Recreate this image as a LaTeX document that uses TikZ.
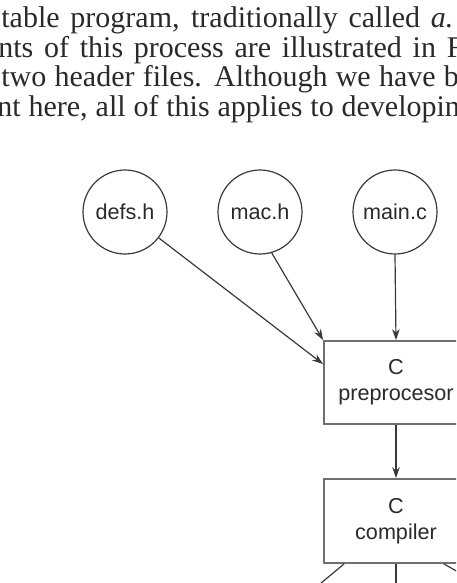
\documentclass[tikz,border=0pt]{standalone}
\usepackage{fontspec}
\setmainfont{Liberation Serif}
\setsansfont{Liberation Sans}
\usetikzlibrary{arrows.meta}
\definecolor{ink}{HTML}{2A2A2A}
\definecolor{lineink}{HTML}{3A3A3A}
\definecolor{boxink}{HTML}{707070}
\tikzset{
  bodytext/.style={anchor=base west, inner sep=0pt, text=ink, font=\fontsize{15pt}{15pt}\selectfont},
  filenode/.style={circle, draw=lineink, line width=0.6pt, minimum size=42pt, inner sep=0pt,
    text=ink, font=\sffamily\fontsize{10.8pt}{13pt}\selectfont},
  procbox/.style={rectangle, draw=boxink, line width=0.9pt, minimum width=72pt, inner sep=0pt,
    align=center, text=ink, font=\sffamily\fontsize{10.8pt}{13pt}\selectfont},
  conn/.style={draw=lineink, line width=0.6pt, -{Stealth[length=5.5pt,width=3.8pt]}},
  plain/.style={draw=lineink, line width=0.6pt}
}
\begin{document}
\begin{tikzpicture}[x=0.5pt,y=-0.5pt]
\useasboundingbox (0,0) rectangle (456,583);
\clip (0,0) rectangle (456,583);
\fill[white] (0,0) rectangle (456,583);
% running text
\node[bodytext] (l1) at (1,27.5) {\makebox[226pt][s]{table program, traditionally called \textit{a.}}};
\node[bodytext] (l2) at (-2,57.5) {\makebox[232.5pt][s]{nts of this process are illustrated in F}};
\node[bodytext] (l3) at (1,87) {\makebox[228.75pt][s]{two header files. Although we have b}};
\node[bodytext] (l4) at (-3,116.5) {\makebox[231.25pt][s]{nt here, all of this applies to developin}};
% files
\node[filenode] (defs) at (125,212) {defs.h};
\node[filenode] (mac) at (260,212) {mac.h};
\node[filenode] (main) at (395,212) {main.c};
% processing boxes
\node[procbox, minimum height=41.5pt] (pre) at (396,382.5) {C\\preprocesor};
\node[procbox, minimum height=42pt] (comp) at (396,521) {C\\compiler};
% connectors
\draw[conn] (defs) -- ([yshift=-12pt]pre.north west);
\draw[conn] (mac.-74) -- (pre.north west);
\draw[conn] (main.south) -- (pre.north);
\draw[conn] (pre.south) -- (comp.north);
% outgoing (cut off by page edge)
\coordinate (outL) at (297,603);
\coordinate (outC) at (396,610);
\coordinate (outR) at (495,593);
\draw[plain] ([xshift=10.5pt]comp.south west) -- (outL);
\draw[plain] (comp.south) -- (outC);
\draw[plain] ([xshift=-12.5pt]comp.south east) -- (outR);
\end{tikzpicture}
\end{document}
